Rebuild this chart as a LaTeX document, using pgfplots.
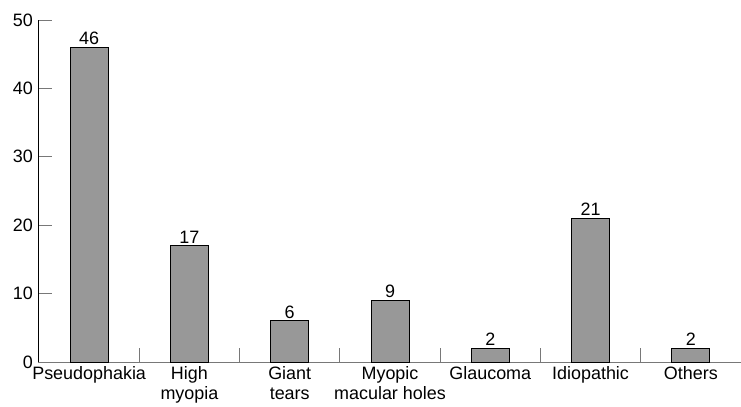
\documentclass[border=0pt]{standalone}
\usepackage{fontspec}
\setmainfont{Liberation Sans}
\usepackage{pgfplots}
\pgfplotsset{compat=1.18}
\definecolor{barfill}{RGB}{152,152,152}
\definecolor{axgray}{RGB}{120,120,120}

\begin{document}
\begin{tikzpicture}
  \fontsize{18}{20}\selectfont
  \begin{axis}[
      scale only axis,
      width=703bp, height=342bp,
      ybar, bar width=38bp,
      xmin=-0.51, xmax=6.5,
      ymin=0, ymax=50,
      ytick={0,10,...,50},
      xtick={0,...,6},
      xticklabels={Pseudophakia, High\\myopia, Giant\\tears, Myopic\\macular holes, Glaucoma, Idiopathic, Others},
      minor xtick={0.5,1.5,...,5.5},
      axis x line*=bottom, axis y line*=left,
      x axis line style={axgray, line width=1pt},
      y axis line style={black, line width=1pt},
      tick align=inside,
      major tick length=14bp, minor tick length=14bp,
      ytick style={axgray, line width=1pt},
      xtick style={draw=none},
      minor x tick style={draw=axgray, line width=1pt},
      xticklabel style={align=center, font=\fontsize{18}{20}\selectfont, inner sep=1bp, yshift=-3bp},
      yticklabel style={font=\fontsize{18}{20}\selectfont, inner sep=1bp, xshift=-4bp},
      /pgf/number format/assume math mode=true,
      nodes near coords,
      every node near coord/.append style={font=\fontsize{18}{20}\selectfont, inner sep=1bp, yshift=1bp},
      clip=false,
    ]
    \addplot[fill=barfill, draw=black, line width=1pt] coordinates {
      (0,46) (1,17) (2,6) (3,9) (4,2) (5,21) (6,2)
    };
  \end{axis}
  \pgfresetboundingbox
  \useasboundingbox (-38bp,-45bp) rectangle (703bp,362bp);
\end{tikzpicture}
\end{document}
